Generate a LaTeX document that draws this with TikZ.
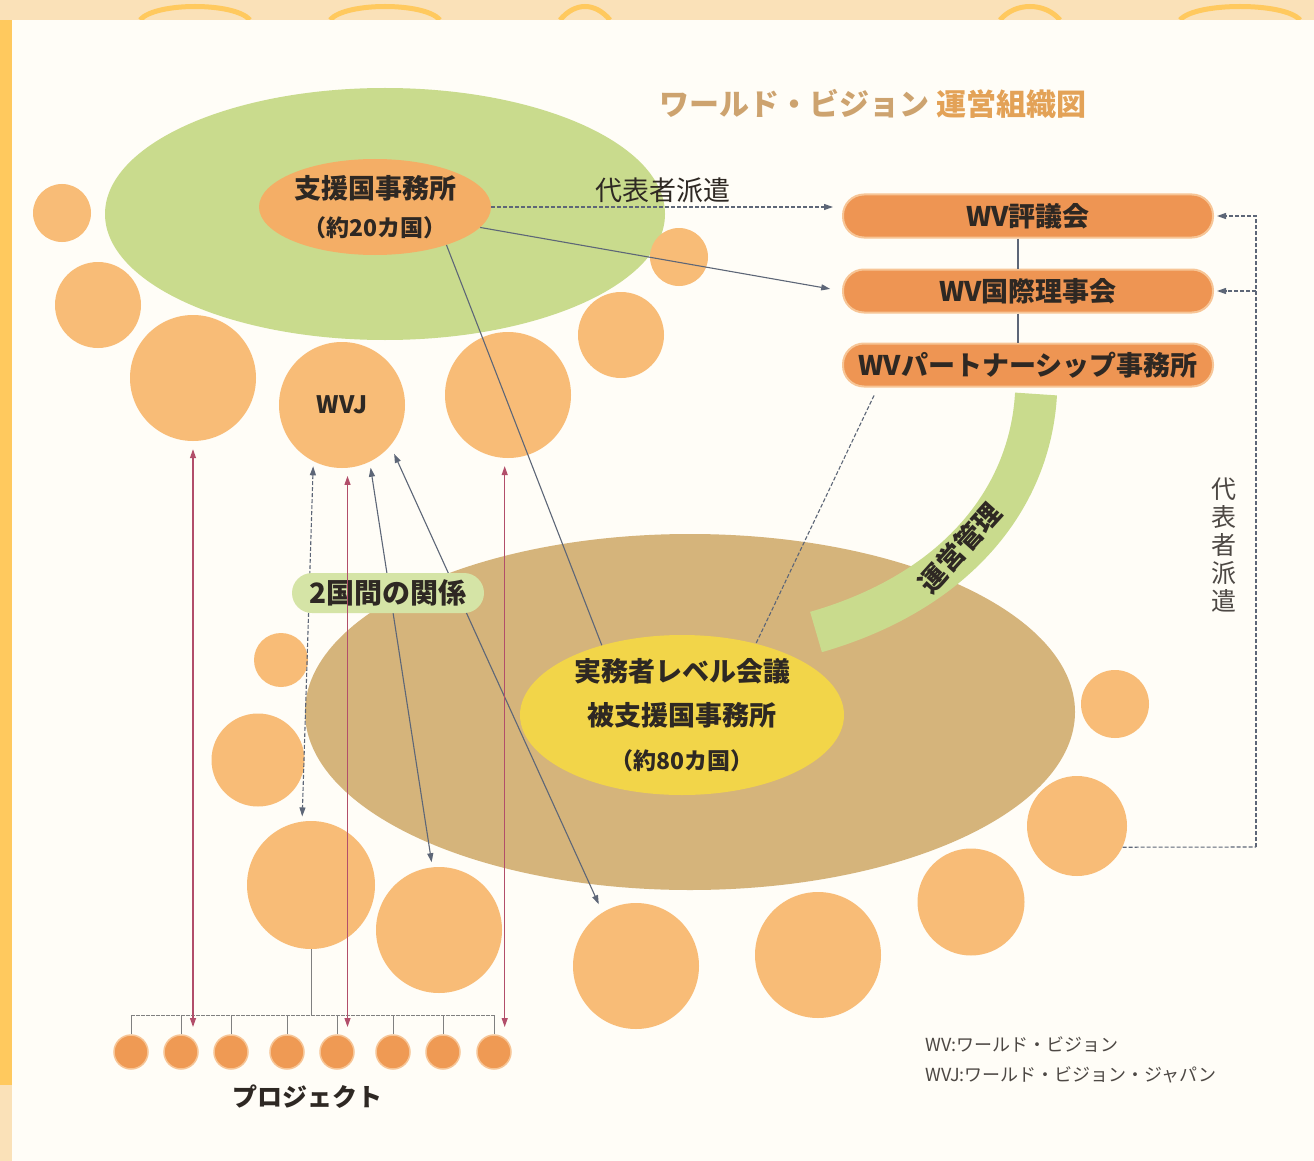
\documentclass[tikz,border=0pt]{standalone}
\usepackage{fontspec}
\setmainfont{Noto Sans CJK JP}
\usetikzlibrary{shapes.geometric,arrows.meta}

\definecolor{paper}{HTML}{FFFDF7}
\definecolor{frameor}{HTML}{FFC95E}
\definecolor{framepale}{HTML}{FAE1B8}
\definecolor{leaf}{HTML}{C9DB8D}
\definecolor{leaflt}{HTML}{D5E4A6}
\definecolor{peach}{HTML}{F8BC77}
\definecolor{peachdk}{HTML}{F4AE66}
\definecolor{tanbg}{HTML}{D5B47B}
\definecolor{lemon}{HTML}{F2D549}
\definecolor{pillor}{HTML}{EE9553}
\definecolor{pillrim}{HTML}{F7C596}
\definecolor{projor}{HTML}{EF9A54}
\definecolor{linegray}{HTML}{5D6677}
\definecolor{linered}{HTML}{B24E6A}
\definecolor{ink}{HTML}{2E2823}
\definecolor{titletan}{HTML}{CDA36F}
\definecolor{titleor}{HTML}{E3A257}

\begin{document}
\begin{tikzpicture}[x=1pt, y=-1pt,
    blob/.style={circle, fill=peach, inner sep=0pt, minimum size=#1},
    proj/.style={circle, fill=projor, draw=pillrim, line width=1.5pt, inner sep=0pt, minimum size=34pt},
    pill/.style={rectangle, rounded corners=21pt, fill=pillor, draw=pillrim, line width=2pt, minimum width=370pt, minimum height=43pt, inner sep=0pt, font=\fontsize{27}{30}\selectfont\bfseries, text=ink},
    lbl/.style={font=\fontsize{27}{30}\selectfont\bfseries, text=ink},
    link/.style={draw=linegray, line width=1.1pt},
    dlink/.style={link, dash pattern=on 4pt off 2pt},
    onetip/.style={arrows={-Triangle[length=9pt,width=6pt]}},
    twoway/.style={arrows={Triangle[length=9pt,width=6pt]-Triangle[length=9pt,width=6pt]}},
    redlink/.style={draw=linered, line width=1.2pt, twoway, shorten <=8pt},
    bline/.style={draw=gray, line width=0.9pt}
]
\useasboundingbox (0,0) rectangle (1314,1161);

% frame and paper
\fill[frameor] (0,0) rectangle (1314,1161);
\fill[framepale] (0,0) rectangle (1314,20);
\fill[framepale] (0,1085) rectangle (12,1161);
\foreach \a/\b in {140/250, 330/440, 560/610, 1000/1060, 1180/1300}
  \draw[frameor, line width=5pt] (\a,20) .. controls (\a+15,2) and (\b-15,2) .. (\b,20);
\fill[paper] (12,20) rectangle (1314,1161);

% title
\node[font=\fontsize{30}{34}\selectfont\bfseries] (title) at (873,104) {\textcolor{titletan}{ワールド・ビジョン} \textcolor{titleor}{運営組織図}};

% donor side
\node[ellipse, fill=leaf, inner sep=0pt, minimum width=560pt, minimum height=252pt] (donor) at (385,214) {};
\node[ellipse, fill=peachdk, inner sep=0pt, minimum width=232pt, minimum height=96pt] (shien) at (375,207) {};
\node[lbl, align=center, font=\fontsize{27}{38}\selectfont\bfseries] (shientext) at (shien) {支援国事務所\\{\fontsize{23}{38}\selectfont （約20カ国）}};

% recipient side
\node[ellipse, fill=tanbg, inner sep=0pt, minimum width=770pt, minimum height=356pt] (field) at (690,712) {};
\draw[leaf, line width=42pt] (1036,394) .. controls (1030,500) and (955,592) .. (816,632);
\node[lbl, rotate=48] (unei) at (960,548) {運営管理};
\node[ellipse, fill=lemon, inner sep=0pt, minimum width=324pt, minimum height=160pt] (jitsumu) at (682,715) {};
\node[lbl, align=center, font=\fontsize{27}{44}\selectfont\bfseries] (jitsumutext) at (jitsumu) {実務者レベル会議\\被支援国事務所\\{\fontsize{23}{44}\selectfont （約80カ国）}};

% offices around the donor group
\node[blob=58pt] (c1) at (62,213) {};
\node[blob=86pt] (c2) at (98,305) {};
\node[blob=126pt] (c3) at (193,378) {};
\node[blob=126pt, lbl, font=\fontsize{24}{28}\selectfont\bfseries] (wvj) at (342,405) {WVJ};
\node[blob=126pt] (c5) at (508,395) {};
\node[blob=86pt] (c6) at (621,335) {};
\node[blob=58pt] (c7) at (679,257) {};

% offices around the field group
\node[blob=54pt] (b1) at (281,660) {};
\node[blob=93pt] (b2) at (258,760) {};
\node[blob=128pt] (b3) at (311,885) {};
\node[blob=126pt] (b4) at (439,930) {};
\node[blob=126pt] (b5) at (636,966) {};
\node[blob=126pt] (b6) at (818,955) {};
\node[blob=107pt] (b7) at (971,902) {};
\node[blob=100pt] (b8) at (1077,826) {};
\node[blob=68pt] (b9) at (1115,704) {};

% WV international bodies
\node[pill] (hyogi) at (1028,216) {WV評議会};
\node[pill] (kokusai) at (1028,291) {WV国際理事会};
\node[pill] (partner) at (1028,365) {WVパートナーシップ事務所};
\draw[link] ([xshift=-10pt]hyogi.south) -- ([xshift=-10pt]kokusai.north);
\draw[link] ([xshift=-10pt]kokusai.south) -- ([xshift=-10pt]partner.north);

% representatives from donor offices
\node[lbl, font=\fontsize{27}{30}\selectfont] (haken1) at (663,190) {代表者派遣};
\draw[dlink, onetip, shorten >=9pt] (shien.east) -- (shien.east -| hyogi.west);
\draw[link, onetip, shorten >=12pt] (shien.-11) -- (kokusai.west);
\draw[link] (shien.-28) -- (jitsumu.139);
\draw[dlink] ([xshift=32pt,yshift=-8pt]partner.south west) -- (jitsumu.44);

% representatives from field offices
\coordinate (fb) at (1256,847);
\draw[dlink] (b8.-25) -- (fb);
\draw[dlink, onetip, shorten >=3pt] (fb) |- (hyogi.east);
\draw[dlink, onetip, shorten >=3pt] (fb |- kokusai.east) -- (kokusai.east);
\node[lbl, align=center, text=ink!85, font=\fontsize{25}{28}\selectfont] (haken2) at (1224,545) {代\\表\\者\\派\\遣};

% bilateral links
\draw[dlink, twoway, shorten <=5pt, shorten >=5pt] (wvj.243) -- (b3.98);
\draw[link, twoway, shorten <=6pt, shorten >=5pt] (wvj.296) -- (b4.96);
\draw[link, twoway, shorten <=9pt, shorten >=9pt] (wvj.320) -- (b5.122);
\node[rectangle, rounded corners=20pt, fill=leaflt, minimum width=192pt, minimum height=40pt, lbl, font=\fontsize{28}{32}\selectfont\bfseries] (bilat) at (388,593) {2国間の関係};

% projects
\coordinate (brk) at (0,1015);
\coordinate (ptip) at (0,1027);
\foreach \x [count=\i] in {131,181,231,287,337,393,443,494}
  \node[proj] (p\i) at (\x,1052) {};
\foreach \i in {1,...,8}
  \draw[bline] (p\i.north) -- (p\i.north |- brk);
\draw[bline, dash pattern=on 4pt off 1pt] (p1.north |- brk) -- (p8.north |- brk);
\draw[bline] (b3.south) -- (b3.south |- brk);
\draw[redlink] (c3.south) -- (c3.south |- ptip);
\draw[redlink] (wvj.-85) -- (wvj.-85 |- ptip);
\draw[redlink] (c5.-93) -- (c5.-93 |- ptip);
\node[lbl, font=\fontsize{25}{28}\selectfont\bfseries] (projlbl) at (307,1097) {プロジェクト};

% legend
\node[anchor=west, text=ink!85, font=\fontsize{18}{22}\selectfont] (leg1) at (922,1045) {WV:ワールド・ビジョン};
\node[anchor=west, text=ink!85, font=\fontsize{18}{22}\selectfont] (leg2) at (922,1075) {WVJ:ワールド・ビジョン・ジャパン};
\end{tikzpicture}
\end{document}
